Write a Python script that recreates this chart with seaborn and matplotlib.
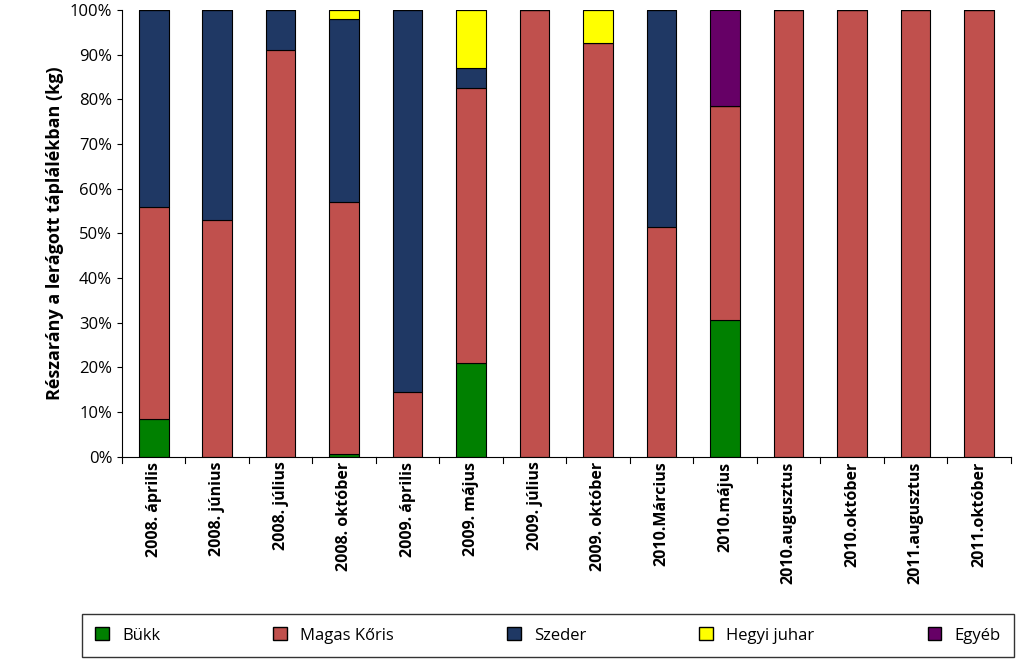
import matplotlib
matplotlib.use("Agg")
import matplotlib.pyplot as plt
import seaborn as sns
import numpy as np
import pandas as pd
from matplotlib.patches import Patch

categories = ["2008. április", "2008. június", "2008. július", "2008. október", "2009. április",
              "2009. május", "2009. július", "2009. október", "2010.Március", "2010.május",
              "2010.augusztus", "2010.október", "2011.augusztus", "2011.október"]
bukk =   [8.5, 0, 0, 0.5, 0, 21, 0, 0, 0, 30.5, 0, 0, 0, 0]
magas =  [47.5, 53, 91, 56.5, 14.5, 61.5, 100, 92.5, 51.5, 48, 100, 100, 100, 100]
szeder = [44, 47, 9, 41, 85.5, 4.5, 0, 0, 48.5, 0, 0, 0, 0, 0]
hegyi =  [0, 0, 0, 2, 0, 13, 0, 7.5, 0, 0, 0, 0, 0, 0]
egyeb =  [0, 0, 0, 0, 0, 0, 0, 0, 0, 21.5, 0, 0, 0, 0]
series_names = ["Bükk", "Magas Kőris", "Szeder", "Hegyi juhar", "Egyéb"]
colors = ["#008000", "#C0504D", "#1F3864", "#FFFF00", "#660066"]

plt.rcParams["font.family"] = "Open Sans"
fig = plt.figure(figsize=(10.24, 6.6), dpi=100)
ax = fig.add_axes([0.119, 0.308, 0.868, 0.677])
bottom = np.zeros(len(categories))
for name, vals, c in zip(series_names, [bukk, magas, szeder, hegyi, egyeb], colors):
    vals = np.array(vals, dtype=float)
    df = pd.DataFrame({"cat": categories, "v": vals})
    sns.barplot(data=df, x="cat", y="v", color=c, bottom=bottom, width=0.47,
                edgecolor="black", linewidth=0.8, ax=ax, saturation=1)
    bottom += vals
ax.set_ylim(0, 100)
ax.set_xlim(-0.5, len(categories) - 0.5)
ax.set_yticks(range(0, 101, 10))
ax.set_yticklabels([f"{t}%" for t in range(0, 101, 10)], fontsize=12)
ax.set_xticks(range(len(categories)))
ax.set_xticklabels(categories, rotation=90, fontsize=11.5, fontweight="bold")
ax.set_xlabel("")
ax.set_ylabel("Részarány a lerágott táplálékban (kg)", fontsize=13, fontweight="bold")
for s in ["top", "right"]:
    ax.spines[s].set_visible(False)
ax.tick_params(axis="x", length=0)
for i in range(len(categories) + 1):
    ax.plot([i - 0.5, i - 0.5], [0, -1.5], color="black", lw=0.8, clip_on=False)
handles = [Patch(facecolor=c, edgecolor="black", label=n) for n, c in zip(series_names, colors)]
leg = fig.legend(handles=handles, loc="lower center", bbox_to_anchor=(0.535, -0.008), ncol=5,
                 frameon=True, fancybox=False, edgecolor="black", fontsize=12,
                 handlelength=0.8, handleheight=0.8, columnspacing=6.8, borderpad=0.8)
fig.savefig("out.png", dpi=100)
